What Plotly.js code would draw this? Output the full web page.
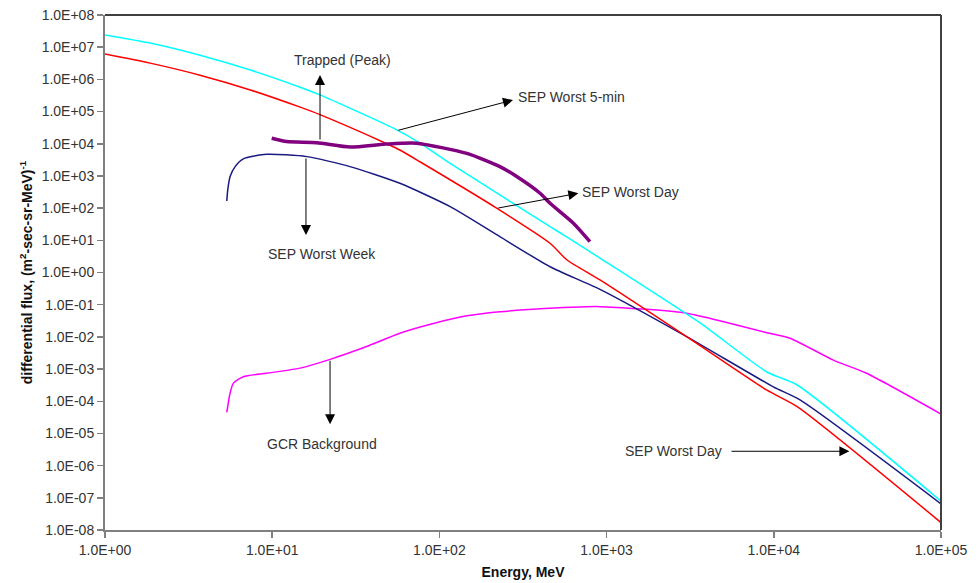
<!DOCTYPE html>
<html>
<head>
<meta charset="utf-8">
<script src="https://cdn.plot.ly/plotly-3.0.1.min.js"></script>
<style>
  html, body { margin: 0; padding: 0; background: #fff; }
  #chart { width: 978px; height: 583px; }
</style>
</head>
<body>
<div id="chart"></div>
<script>
// Energy (MeV) and differential flux values
var sep5minEnergy = [1, 1.86, 3.7, 7.4, 14.7, 19.3, 55.6, 76.5, 116, 230, 459, 580, 913, 3620, 9100, 13800, 100000];
var sep5minFlux   = [2.4e7, 1.34e7, 5.6e6, 1.95e6, 5.7e5, 3.3e5, 2.7e4, 1.05e4, 2450, 257, 26.5, 12.6, 2.8, 0.027, 8.1e-4, 3.2e-4, 7.9e-8];

var sepDayEnergy = [1, 1.86, 3.7, 7.4, 14.7, 19.3, 48.4, 58, 76.5, 220, 459, 580, 913, 3010, 9100, 13800, 100000];
var sepDayFlux   = [6.1e6, 3.2e6, 1.35e6, 4.7e5, 1.37e5, 8.0e4, 1.0e4, 6400, 2760, 100, 8.1, 2.45, 0.59, 0.0102, 2.2e-4, 6.8e-5, 1.7e-8];

var sepWeekEnergy = [5.35, 5.42, 5.6, 6.0, 6.72, 9.27, 16.1, 29.2, 58, 116, 230, 459, 913, 3010, 9940, 14350, 100000];
var sepWeekFlux   = [166, 363, 960, 1950, 3400, 4700, 3980, 1950, 590, 111, 13, 1.51, 0.30, 0.0102, 2.8e-4, 1.1e-4, 6.5e-8];

var gcrEnergy = [5.35, 5.6, 5.85, 6.72, 9.27, 14.7, 22.2, 36.7, 58, 92, 146, 230, 363, 913, 2880, 4550, 9100, 12500, 22700, 35900, 100000];
var gcrFlux   = [4.5e-5, 1.8e-4, 3.6e-4, 5.8e-4, 7.4e-4, 1.07e-3, 2.0e-3, 5.0e-3, 0.013, 0.026, 0.045, 0.060, 0.072, 0.087, 0.056, 0.0335, 0.0135, 9.1e-3, 1.9e-3, 7.4e-4, 4.0e-5];

var trappedEnergy = [9.93, 12.2, 18.5, 29.2, 48.4, 73, 146, 230, 290, 400, 459, 633, 795];
var trappedFlux   = [1.48e4, 1.17e4, 1.08e4, 7900, 9800, 1.04e4, 5000, 1950, 960, 290, 141, 34, 9.1];

// Tick values and labels
var xTickVals = [1, 10, 100, 1000, 10000, 100000];
var xTickText = ['1.0E+00', '1.0E+01', '1.0E+02', '1.0E+03', '1.0E+04', '1.0E+05'];
var yTickVals = [1e-8, 1e-7, 1e-6, 1e-5, 1e-4, 1e-3, 1e-2, 1e-1, 1, 10, 100, 1e3, 1e4, 1e5, 1e6, 1e7, 1e8];
var yTickText = ['1.0E-08', '1.0E-07', '1.0E-06', '1.0E-05', '1.0E-04', '1.0E-03', '1.0E-02', '1.0E-01',
                 '1.0E+00', '1.0E+01', '1.0E+02', '1.0E+03', '1.0E+04', '1.0E+05', '1.0E+06', '1.0E+07', '1.0E+08'];

function line(x, y, color, width, name) {
  return {
    x: x, y: y, type: 'scatter', mode: 'lines', name: name,
    line: { color: color, width: width, shape: 'spline', smoothing: 0.6 },
    hoverinfo: 'x+y+name'
  };
}

var traces = [
  line(gcrEnergy, gcrFlux, '#FF00FF', 1.5, 'GCR Background'),
  line(sepWeekEnergy, sepWeekFlux, '#1A1A80', 1.5, 'SEP Worst Week'),
  line(sepDayEnergy, sepDayFlux, '#FF0000', 1.5, 'SEP Worst Day'),
  line(sep5minEnergy, sep5minFlux, '#00FFFF', 1.5, 'SEP Worst 5-min'),
  line(trappedEnergy, trappedFlux, '#800080', 3.5, 'Trapped (Peak)')
];

var txtFont = { family: 'Liberation Sans, Arial, sans-serif', size: 14, color: '#333' };

function label(text, xl, yl) {
  return { text: text, x: xl, y: yl, xref: 'x', yref: 'y', showarrow: false, font: txtFont,
           xanchor: 'center', yanchor: 'middle' };
}
function arrow(hx, hy, tx, ty) {
  return { text: '', x: hx, y: hy, ax: tx, ay: ty, xref: 'x', yref: 'y', axref: 'x', ayref: 'y',
           showarrow: true, arrowhead: 2, arrowsize: 2, arrowwidth: 1, arrowcolor: '#000', standoff: 0 };
}

var annotations = [
  label('Trapped (Peak)', 1.419, 6.60),
  arrow(1.286, 6.136, 1.286, 4.086),
  label('SEP Worst Week', 1.296, 0.566),
  arrow(1.202, 1.166, 1.202, 3.589),
  label('SEP Worst 5-min', 2.793, 5.45),
  arrow(2.440, 5.359, 1.745, 4.406),
  label('SEP Worst Day', 3.143, 2.511),
  arrow(2.831, 2.461, 2.343, 1.995),
  label('GCR Background', 1.300, -5.327),
  arrow(1.346, -4.715, 1.346, -2.696),
  label('SEP Worst Day', 3.399, -5.535),
  arrow(4.452, -5.554, 3.738, -5.554)
];

var layout = {
  width: 978, height: 583,
  margin: { l: 105, r: 37, t: 15, b: 53 },
  paper_bgcolor: '#fff', plot_bgcolor: '#fff',
  showlegend: false,
  font: { family: 'Liberation Sans, Arial, sans-serif', size: 14, color: '#333' },
  xaxis: {
    type: 'log', range: [0, 5],
    tickvals: xTickVals, ticktext: xTickText,
    ticks: 'outside', ticklen: 6, tickcolor: '#808080', tickwidth: 1.5,
    showline: true, linecolor: '#808080', linewidth: 2,
    showgrid: false, zeroline: false,
    tickfont: { size: 14, color: '#333' },
    title: { text: '<b>Energy, MeV</b>', font: { size: 14, color: '#111' }, standoff: 10 }
  },
  yaxis: {
    type: 'log', range: [-8, 8],
    tickvals: yTickVals, ticktext: yTickText,
    ticks: 'outside', ticklen: 6, tickcolor: '#808080', tickwidth: 1.5,
    showline: true, linecolor: '#808080', linewidth: 2,
    showgrid: false, zeroline: false,
    tickfont: { size: 14, color: '#333' },
    title: { text: '<b>differential flux, (m<sup>2</sup>-sec-sr-MeV)<sup>-1</sup></b>', font: { size: 14, color: '#111' }, standoff: 6 }
  },
  shapes: [
    { type: 'line', xref: 'paper', yref: 'paper', x0: 0, x1: 1, y0: 1, y1: 1, line: { color: '#404040', width: 2 } },
    { type: 'line', xref: 'paper', yref: 'paper', x0: 1, x1: 1, y0: 0, y1: 1, line: { color: '#404040', width: 2 } }
  ],
  annotations: annotations
};

Plotly.newPlot('chart', traces, layout, { displayModeBar: false, staticPlot: true });
</script>
</body>
</html>
